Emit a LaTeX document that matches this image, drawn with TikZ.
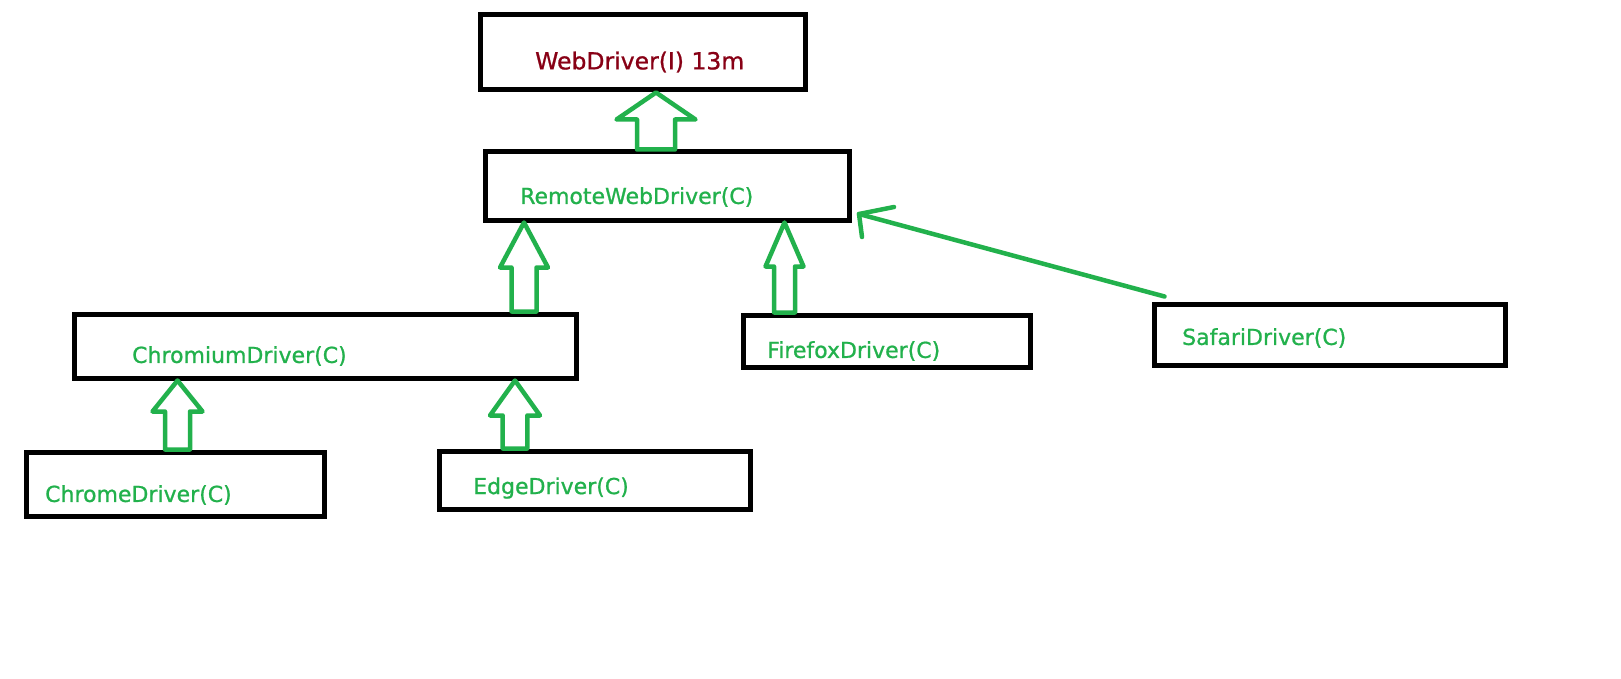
\documentclass[tikz,border=0pt]{standalone}
\usepackage{fontspec}
\setmainfont{DejaVu Sans}
\newfontfamily\drvfont[FakeBold=0.9]{DejaVu Sans}
\usetikzlibrary{calc}
\definecolor{paintgreen}{RGB}{34,177,76}
\definecolor{paintred}{RGB}{136,0,21}
% hollow block arrow pointing up: bottom point, tip point, shaft half width, head half width, head length
\newcommand{\blockup}[5]{%
  \draw[hollow] let \p1=(#1), \p2=(#2) in
    (\x2,\y2) -- (\x2+#4pt,\y2-#5pt) -- (\x2+#3pt,\y2-#5pt) -- (\x2+#3pt,\y1)
    -- (\x2-#3pt,\y1) -- (\x2-#3pt,\y2-#5pt) -- (\x2-#4pt,\y2-#5pt) -- cycle;}
\begin{document}
\begin{tikzpicture}[x=1pt, y=-1pt,
    drvbox/.style={draw, line width=5pt, inner sep=0pt},
    greentxt/.style={anchor=west, inner sep=0pt, text=paintgreen, font=\drvfont\fontsize{22}{26}\selectfont},
    hollow/.style={draw=paintgreen, line width=4.5pt, line join=round},
    greenline/.style={draw=paintgreen, line width=4.5pt, line cap=round, line join=round}]
  \fill[white] (0,0) rectangle (1621,679);
  \useasboundingbox (0,0) rectangle (1621,679);
  % boxes
  \node[drvbox, minimum width=325pt, minimum height=75pt] (web) at (642.5,52.5) {};
  \node[drvbox, minimum width=364pt, minimum height=68pt] (remote) at (667,186) {};
  \node[drvbox, minimum width=502pt, minimum height=64pt] (chromium) at (325,346) {};
  \node[drvbox, minimum width=298pt, minimum height=64pt] (chrome) at (175,484) {};
  \node[drvbox, minimum width=311pt, minimum height=58pt] (edge) at (594.5,480) {};
  \node[drvbox, minimum width=287pt, minimum height=52pt] (firefox) at (886.5,341) {};
  \node[drvbox, minimum width=351pt, minimum height=61pt] (safari) at (1329.5,334.5) {};
  % labels
  \node[anchor=west, inner sep=0pt, text=paintred, font=\drvfont\fontsize{23.5}{28}\selectfont] (webtxt) at (535,62) {WebDriver(I) 13m};
  \node[greentxt] (remotetxt) at (520,197) {RemoteWebDriver(C)};
  \node[greentxt] (chromiumtxt) at (132,356) {ChromiumDriver(C)};
  \node[greentxt] (chrometxt) at (45,495) {ChromeDriver(C)};
  \node[greentxt] (edgetxt) at (473,488) {EdgeDriver(C)};
  \node[greentxt] (firefoxtxt) at (767,351) {FirefoxDriver(C)};
  \node[greentxt] (safaritxt) at (1182,338) {SafariDriver(C)};
  % inheritance arrows
  \blockup{remote.north -| 656,0}{web.south -| 656,0}{19}{39.5}{27}
  \blockup{chromium.north -| 524,0}{remote.south -| 524,0}{12.5}{24}{45}
  \blockup{firefox.north -| 784.5,0}{remote.south -| 784.5,0}{10.5}{19}{44}
  \blockup{edge.north -| 515,0}{chromium.south -| 515,0}{12.3}{25}{35}
  \blockup{chrome.north -| 177.5,0}{chromium.south -| 177.5,0}{12.5}{25}{31}
  % safari
  \coordinate (safaritip) at (859,214);
  \draw[greenline] ([shift={(13,-5)}]safari.north west) -- (safaritip);
  \draw[greenline] ($(safaritip)+(35,-7)$) -- (safaritip) -- ++(3,23);
\end{tikzpicture}
\end{document}
